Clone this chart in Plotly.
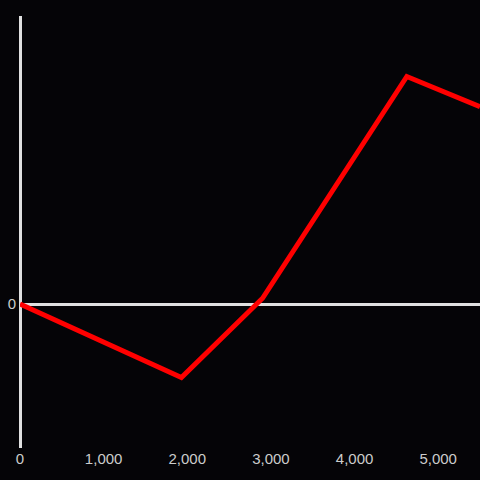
import plotly.graph_objects as go

x_vals = [0, 1930, 2900, 4625, 5500]
y_vals = [0, -51, 4, 158, 137]
x_ticks = [0, 1000, 2000, 3000, 4000, 5000]
y_ticks = [0]

fig = go.Figure()
fig.add_trace(go.Scatter(x=x_vals, y=y_vals, mode='lines',
                         line=dict(color='#ff0000', width=5)))

fig.update_layout(width=480, height=480,
                  margin=dict(l=20, r=0, t=16, b=32),
                  paper_bgcolor='#050407', plot_bgcolor='#050407',
                  showlegend=False,
                  font=dict(family='Liberation Sans, Arial, sans-serif', size=15, color='#cccccc'),
                  xaxis=dict(range=[0, 5500], tickvals=x_ticks, tickformat=',',
                             showgrid=False, zeroline=True, zerolinecolor='#e0e0e0',
                             zerolinewidth=3, ticks='', showline=False),
                  yaxis=dict(range=[-100, 200], tickvals=y_ticks, ticklabelstandoff=3,
                             showgrid=False, zeroline=True, zerolinecolor='#e0e0e0',
                             zerolinewidth=3, ticks='', showline=False))

# page body margin off so the chart fills the window
fig.write_html("out.html", config={'displayModeBar': False},
               post_script="document.body.style.margin='0';")
